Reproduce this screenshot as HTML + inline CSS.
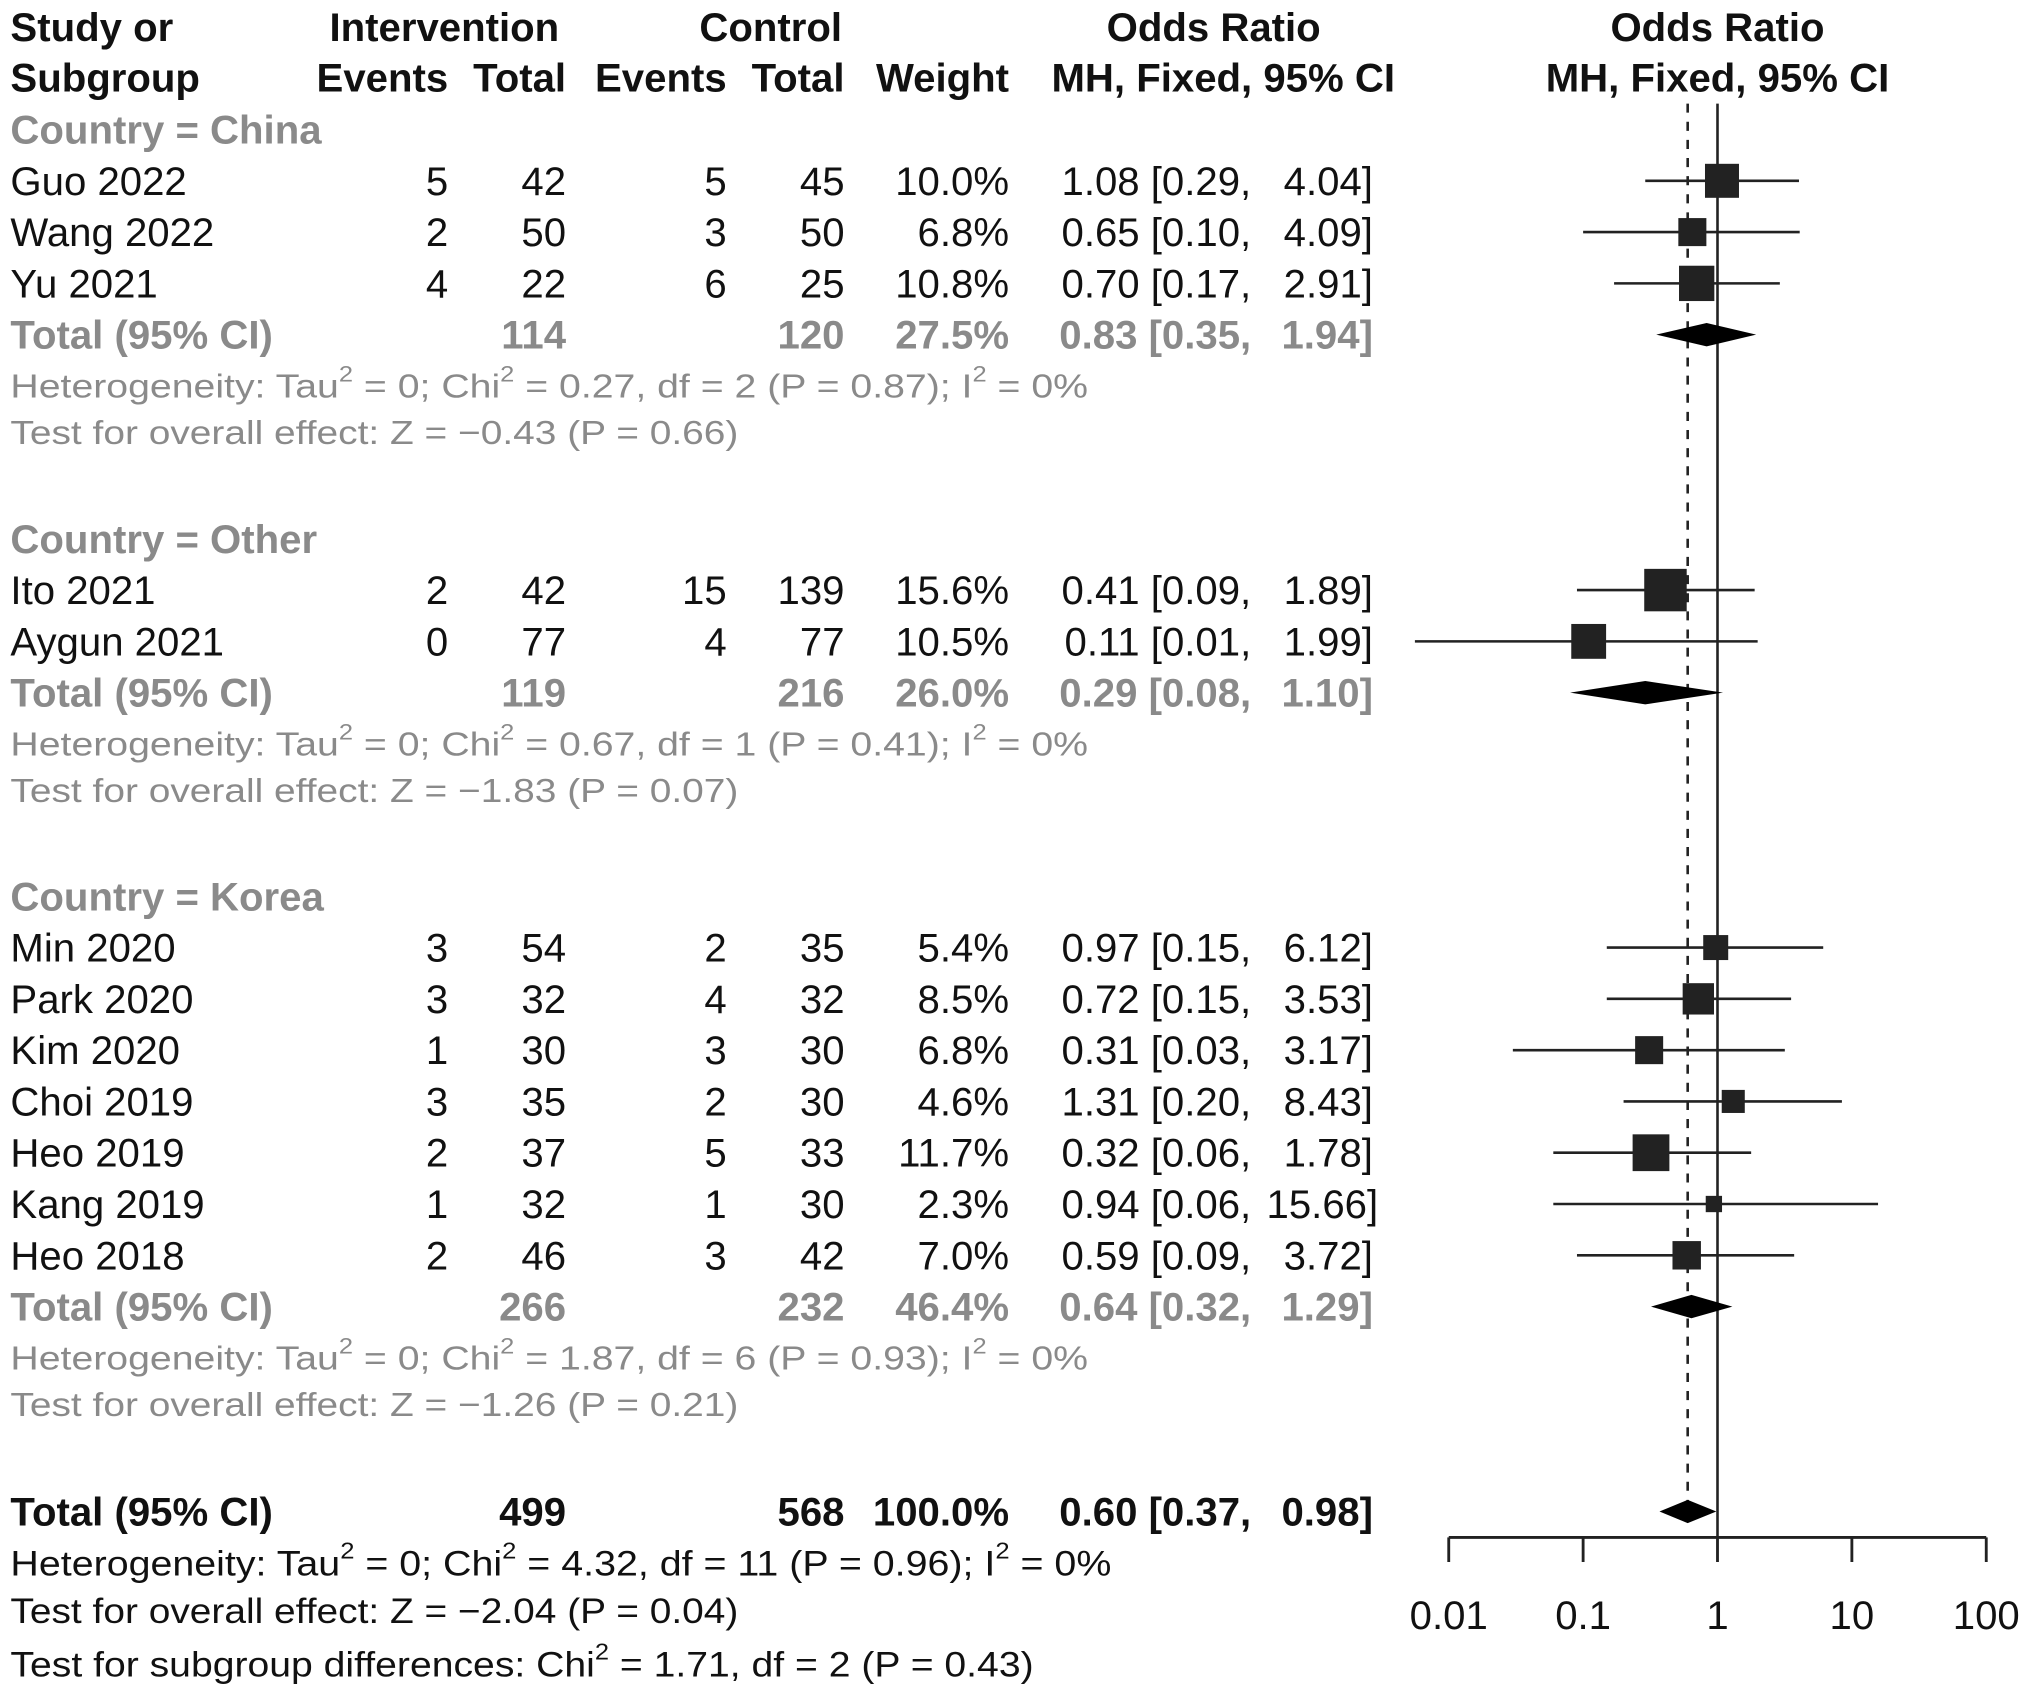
<!DOCTYPE html>
<html><head><meta charset="utf-8"><style>
html,body{margin:0;padding:0;background:#fff;}
svg{display:block;}
text{font-family:"Liberation Sans",Arial,sans-serif;}
</style></head><body>
<svg id="plot" width="2031" height="1698" viewBox="0 0 1568 1311" xmlns="http://www.w3.org/2000/svg"></svg>
<script>
const studies=["Guo 2022","Wang 2022","Yu 2021","Ito 2021","Aygun 2021","Min 2020","Park 2020","Kim 2020","Choi 2019","Heo 2019","Kang 2019","Heo 2018"];
const studyGroup=[0,0,0,1,1,2,2,2,2,2,2,2];
const intEvents=[5,2,4,2,0,3,3,1,3,2,1,2];
const intTotal=[42,50,22,42,77,54,32,30,35,37,32,46];
const ctlEvents=[5,3,6,15,4,2,4,3,2,5,1,3];
const ctlTotal=[45,50,25,139,77,35,32,30,30,33,30,42];
const weights=[10.0,6.8,10.8,15.6,10.5,5.4,8.5,6.8,4.6,11.7,2.3,7.0];
const orVals=[1.08,0.65,0.70,0.41,0.11,0.97,0.72,0.31,1.31,0.32,0.94,0.59];
const ciLo=[0.29,0.10,0.17,0.09,0.0056,0.15,0.15,0.03,0.20,0.06,0.06,0.09];
const ciHi=[4.04,4.09,2.91,1.89,1.99,6.12,3.53,3.17,8.43,1.78,15.66,3.72];
const groupNames=["Country = China","Country = Other","Country = Korea"];
const groupIntTotal=[114,119,266];
const groupCtlTotal=[120,216,232];
const groupWeight=[27.5,26.0,46.4];
const groupOR=[0.83,0.29,0.64];
const groupLo=[0.35,0.08,0.32];
const groupHi=[1.94,1.10,1.29];
const groupHet=["Tau|2| = 0; Chi|2| = 0.27, df = 2 (P = 0.87); I|2| = 0%","Tau|2| = 0; Chi|2| = 0.67, df = 1 (P = 0.41); I|2| = 0%","Tau|2| = 0; Chi|2| = 1.87, df = 6 (P = 0.93); I|2| = 0%"];
const groupZ=["Z = \u22120.43 (P = 0.66)","Z = \u22121.83 (P = 0.07)","Z = \u22121.26 (P = 0.21)"];
const overall={it:499,ct:568,w:100.0,or:0.60,lo:0.37,hi:0.98};
const tickVals=[0.01,0.1,1,10,100];
const tickLabels=["0.01","0.1","1","10","100"];

const NS="http://www.w3.org/2000/svg";
const svg=document.getElementById('plot');
function xs(v){return 1326+103.75*Math.log10(v);}
function el(tag,attrs,parent){const e=document.createElementNS(NS,tag);for(const k in attrs)e.setAttribute(k,attrs[k]);(parent||svg).appendChild(e);return e;}
function txt(s,x,y,o,name){o=o||{};const t=el('text',{x:x,y:y,'font-size':o.size||31,fill:o.fill||'#111','text-anchor':o.anchor||'start','font-weight':o.bold?'bold':'normal','dominant-baseline':'central'});


if(o.len){t.setAttribute('textLength',o.len);t.setAttribute('lengthAdjust','spacingAndGlyphs');}
const parts=s.split('|');parts.forEach((p,i)=>{const ts=document.createElementNS(NS,'tspan');
if(i%2==1){ts.setAttribute('dy','-10');ts.setAttribute('font-size',(o.size||31)*0.65);}else if(i>0){ts.setAttribute('dy','10');}
ts.textContent=p;t.appendChild(ts);});return t;}
const GRAY='#8a8a8a';
txt("Study or",8,21,{bold:true},'header-study');
txt("Subgroup",8,60,{bold:true},'header-subgroup');
txt("Intervention",343,21,{bold:true,anchor:'middle'},'header-intervention');
txt("Control",595,21,{bold:true,anchor:'middle'},'header-control');
txt("Odds Ratio",937,21,{bold:true,anchor:'middle'},'header-odds-ratio');
txt("Events",346,60,{bold:true,anchor:'end'},'header-int-events');
txt("Total",437,60,{bold:true,anchor:'end'},'header-int-total');
txt("Events",561,60,{bold:true,anchor:'end'},'header-ctl-events');
txt("Total",652,60,{bold:true,anchor:'end'},'header-ctl-total');
txt("Weight",779,60,{bold:true,anchor:'end'},'header-weight');
txt("MH, Fixed, 95% CI",1077,60,{bold:true,anchor:'end'},'header-mh-ci');

function ciText(o,l,h,y,opts,name){
 txt(o.toFixed(2)+" ["+l.toFixed(2)+",",966,y,Object.assign({anchor:'end'},opts),name+'-or');
 txt(h.toFixed(2)+"]",h>=10?1064:1060,y,Object.assign({anchor:'end'},opts),name+'-upper');
}
const axis=el('g',{});


el('line',{x1:xs(tickVals[0]),x2:xs(tickVals[tickVals.length-1]),y1:1187,y2:1187,stroke:'#222','stroke-width':2.2},axis);
tickVals.forEach((v,i)=>{const l=el('line',{x1:xs(v),x2:xs(v),y1:1187,y2:1206,stroke:'#222','stroke-width':2.2},axis);


txt(tickLabels[i],xs(v),1247,{anchor:'middle',size:31},'x-tick-label');});
const ref=el('line',{x1:xs(1),x2:xs(1),y1:80,y2:1187,stroke:'#222','stroke-width':2});


const dl=el('line',{x1:xs(overall.or),x2:xs(overall.or),y1:80,y2:1160,stroke:'#222','stroke-width':2,'stroke-dasharray':'7,7'});


const bg=el('rect',{x:1180,y:0,width:300,height:78,fill:'#fff'});


txt("Odds Ratio",1326,21,{bold:true,anchor:'middle'},'plot-header-odds-ratio');
txt("MH, Fixed, 95% CI",1326,60,{bold:true,anchor:'middle'},'plot-header-mh-ci');

function diamond(o,l,h,y,name){const p=el('polygon',{points:`${xs(l)},${y} ${xs(o)},${y-9} ${xs(h)},${y} ${xs(o)},${y+9}`,fill:'#000'});

}

const groupStartY=[100,416,692];
for(let g=0;g<3;g++){
 let y=groupStartY[g];
 txt(groupNames[g],8,y,{bold:true,fill:GRAY},'subgroup-title');
 for(let i=0;i<studies.length;i++){ if(studyGroup[i]!==g)continue;
  y+=39.6;
  txt(studies[i],8,y,{},'study-name');
  txt(String(intEvents[i]),346,y,{anchor:'end'},'int-events');
  txt(String(intTotal[i]),437,y,{anchor:'end'},'int-total');
  txt(String(ctlEvents[i]),561,y,{anchor:'end'},'ctl-events');
  txt(String(ctlTotal[i]),652,y,{anchor:'end'},'ctl-total');
  txt(weights[i].toFixed(1)+"%",779,y,{anchor:'end'},'weight');
  ciText(orVals[i],ciLo[i],ciHi[i],y,{},'study-ci');
  const ln=el('line',{x1:xs(ciLo[i]),x2:xs(ciHi[i]),y1:y,y2:y,stroke:'#222','stroke-width':2});
  
  
  const s=8.3*Math.sqrt(weights[i]);
  const r=el('rect',{x:xs(orVals[i])-s/2,y:y-s/2,width:s,height:s,fill:'#222'});
  
  
 }
 y+=39.6;
 txt("Total (95% CI)",8,y,{bold:true,fill:GRAY},'subgroup-total-label');
 txt(String(groupIntTotal[g]),437,y,{bold:true,fill:GRAY,anchor:'end'},'subgroup-int-total');
 txt(String(groupCtlTotal[g]),652,y,{bold:true,fill:GRAY,anchor:'end'},'subgroup-ctl-total');
 txt(groupWeight[g].toFixed(1)+"%",779,y,{bold:true,fill:GRAY,anchor:'end'},'subgroup-weight');
 ciText(groupOR[g],groupLo[g],groupHi[g],y,{bold:true,fill:GRAY},'subgroup-ci');
 diamond(groupOR[g],groupLo[g],groupHi[g],y,'subgroup-diamond');
 txt("Heterogeneity: "+groupHet[g],8,y+40,{size:26,fill:GRAY,len:832},'subgroup-heterogeneity');
 txt("Test for overall effect: "+groupZ[g],8,y+76,{size:26,fill:GRAY,len:562},'subgroup-overall-effect');
}
const oy=1167;
txt("Total (95% CI)",8,oy,{bold:true},'overall-total-label');
txt(String(overall.it),437,oy,{bold:true,anchor:'end'},'overall-int-total');
txt(String(overall.ct),652,oy,{bold:true,anchor:'end'},'overall-ctl-total');
txt(overall.w.toFixed(1)+"%",779,oy,{bold:true,anchor:'end'},'overall-weight');
ciText(overall.or,overall.lo,overall.hi,oy,{bold:true},'overall-ci');
diamond(overall.or,overall.lo,overall.hi,oy,'overall-diamond');
txt("Heterogeneity: Tau|2| = 0; Chi|2| = 4.32, df = 11 (P = 0.96); I|2| = 0%",8,1207,{size:27,len:850},'overall-heterogeneity');
txt("Test for overall effect: Z = \u22122.04 (P = 0.04)",8,1244,{size:27,len:562},'overall-effect-test');
txt("Test for subgroup differences: Chi|2| = 1.71, df = 2 (P = 0.43)",8,1285,{size:27,len:790},'subgroup-differences-test');
</script>
</body></html>
